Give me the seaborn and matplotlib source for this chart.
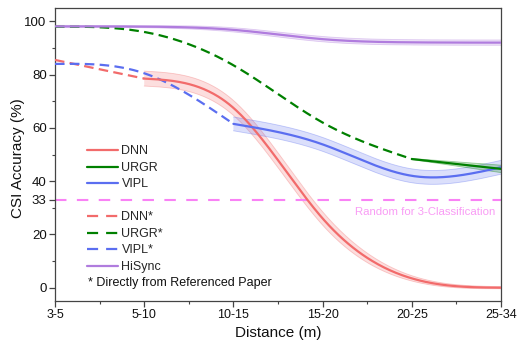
import numpy as np
import pandas as pd
import matplotlib
matplotlib.use("Agg")
import matplotlib.pyplot as plt
from matplotlib.lines import Line2D
import seaborn as sns

# ---------------- data ----------------
categories = ["3-5", "5-10", "10-15", "15-20", "20-25", "25-34"]

# measured series (solid, with shaded band)
dnn_x = [1, 2, 3, 4, 5]
dnn_y = [78.5, 67.5, 26.0, 3.5, 0.0]
dnn_err = [2.8, 2.8, 2.5, 1.0, 0.4]

urgr_x = [4, 5]
urgr_y = [48.3, 44.6]
urgr_err = [0.2, 1.4]

vipl_x = [2, 3, 4, 5]
vipl_y = [61.5, 53.8, 42.0, 45.2]
vipl_err = [2.6, 2.6, 2.6, 2.6]

hisync_x = [0, 1, 2, 3, 4, 5]
hisync_y = [98.1, 98.0, 96.8, 93.3, 92.1, 92.0]
hisync_err = [0.4, 0.4, 0.8, 1.0, 1.0, 1.0]

# values from referenced papers (dashed)
dnn_ref_x = [0, 1]
dnn_ref_y = [85.5, 78.5]
urgr_ref_x = [0, 1, 2, 3, 4]
urgr_ref_y = [98.0, 96.0, 83.5, 62.0, 48.3]
vipl_ref_x = [0, 1, 2]
vipl_ref_y = [84.0, 80.5, 61.5]

random_level = 33
yticks = [0, 20, 33, 40, 60, 80, 100]

# ---------------- styling ----------------
C_DNN = "#F26B6B"
C_URGR = "#008000"
C_VIPL = "#5B6EF0"
C_HIS = "#B07CDE"
C_RAND = "#F982F5"
C_RAND_TXT = "#F99CF5"

sns.set_theme(style="white")
plt.rcParams["font.family"] = ["Liberation Sans", "DejaVu Sans"]


def spline(x, y, n=300):
    """Natural cubic spline used only to draw a smooth connecting line."""
    x = np.asarray(x, float)
    y = np.asarray(y, float)
    k = len(x)
    xs = np.linspace(x[0], x[-1], n)
    if k < 3:
        return xs, np.interp(xs, x, y)
    h = np.diff(x)
    A = np.zeros((k, k))
    r = np.zeros(k)
    A[0, 0] = A[-1, -1] = 1
    for i in range(1, k - 1):
        A[i, i - 1] = h[i - 1]
        A[i, i] = 2 * (h[i - 1] + h[i])
        A[i, i + 1] = h[i]
        r[i] = 6 * ((y[i + 1] - y[i]) / h[i] - (y[i] - y[i - 1]) / h[i - 1])
    M = np.linalg.solve(A, r)
    idx = np.clip(np.searchsorted(x, xs) - 1, 0, k - 2)
    x0, x1 = x[idx], x[idx + 1]
    hh = x1 - x0
    a = x1 - xs
    b = xs - x0
    ys = (M[idx] * a ** 3 / (6 * hh) + M[idx + 1] * b ** 3 / (6 * hh)
          + (y[idx] / hh - M[idx] * hh / 6) * a
          + (y[idx + 1] / hh - M[idx + 1] * hh / 6) * b)
    return xs, ys


fig = plt.figure(figsize=(5.17, 3.43), dpi=100)
ax = fig.add_axes([0.1064, 0.1224, 0.8627, 0.8543])

DASH = (0, (4.3, 2.4))


def band(x, y, err, color):
    y = np.asarray(y, float)
    e = np.asarray(err, float)
    xs, lo = spline(x, y - e)
    _, hi = spline(x, y + e)
    ax.fill_between(xs, lo, hi, facecolor=color, alpha=0.22, edgecolor="none", zorder=1)
    ax.plot(xs, lo, color=color, alpha=0.35, lw=0.6, zorder=1)
    ax.plot(xs, hi, color=color, alpha=0.35, lw=0.6, zorder=1)


def line(x, y, color, dashed=False, z=3):
    xs, ys = spline(x, y)
    df = pd.DataFrame({"x": xs, "y": ys})
    kw = dict(linestyle=DASH) if dashed else {}
    sns.lineplot(data=df, x="x", y="y", color=color, lw=1.6, ax=ax,
                 legend=False, sort=False, zorder=z, **kw)


# reference line
ax.axhline(random_level, color=C_RAND, lw=1.5, linestyle=(0, (5.5, 5.0)), zorder=2)
ax.text(4.93, 28.3, "Random for 3-Classification", color=C_RAND_TXT,
        fontsize=8.2, ha="right", va="center")

band(hisync_x, hisync_y, hisync_err, C_HIS)
band(dnn_x, dnn_y, dnn_err, C_DNN)
band(vipl_x, vipl_y, vipl_err, C_VIPL)
band(urgr_x, urgr_y, urgr_err, C_URGR)

line(dnn_ref_x, dnn_ref_y, C_DNN, dashed=True)
line(vipl_ref_x, vipl_ref_y, C_VIPL, dashed=True)
line(urgr_ref_x, urgr_ref_y, C_URGR, dashed=True)
line(hisync_x, hisync_y, C_HIS)
line(dnn_x, dnn_y, C_DNN)
line(vipl_x, vipl_y, C_VIPL)
line(urgr_x, urgr_y, C_URGR)

# axes
ax.set_xlim(0, 5)
ax.set_ylim(-5, 105)
ax.set_xticks(range(len(categories)))
ax.set_xticklabels(categories)
ax.set_xticks(np.arange(0.5, 5, 1), minor=True)
ax.set_yticks(yticks)
ax.set_yticks([10, 30, 50, 70, 90], minor=True)
ax.tick_params(axis="both", which="major", direction="out", length=4, width=0.9,
               color="#444444", labelsize=9, pad=2, bottom=True, left=True,
               top=False, right=False, labelcolor="#111111")
ax.tick_params(axis="y", which="major", labelsize=9.5)
ax.tick_params(axis="both", which="minor", direction="out", length=2.5, width=0.8,
               color="#444444", bottom=True, left=True, top=False, right=False)
for s in ax.spines.values():
    s.set_visible(True)
    s.set_color("#444444")
    s.set_linewidth(0.9)
ax.grid(False)
ax.set_xlabel("Distance (m)", fontsize=11, labelpad=3.5, color="#111111")
ax.set_ylabel("CSI Accuracy (%)", fontsize=11, color="#111111")
ax.yaxis.set_label_coords(-0.067, 0.488)

# legend
LDASH = (0, (5.0, 3.6))
handles = [
    Line2D([], [], color=C_DNN, lw=1.6),
    Line2D([], [], color=C_URGR, lw=1.6),
    Line2D([], [], color=C_VIPL, lw=1.6),
    Line2D([], [], color="none", lw=0),
    Line2D([], [], color=C_DNN, lw=1.6, linestyle=LDASH),
    Line2D([], [], color=C_URGR, lw=1.6, linestyle=LDASH),
    Line2D([], [], color=C_VIPL, lw=1.6, linestyle=LDASH),
    Line2D([], [], color=C_HIS, lw=1.6),
]
labels = ["DNN", "URGR", "VIPL", " ", "DNN*", "URGR*", "VIPL*", "HiSync"]
ax.legend(handles, labels, loc="upper left", bbox_to_anchor=(0.072, 0.531),
          frameon=False, fontsize=9, handlelength=2.5, handletextpad=0.25,
          labelspacing=0.36, borderpad=0, borderaxespad=0)
ax.text(0.074, 0.063, "* Directly from Referenced Paper", transform=ax.transAxes,
        fontsize=9, ha="left", va="center", color="#111111")

fig.savefig("out.png", dpi=100)
